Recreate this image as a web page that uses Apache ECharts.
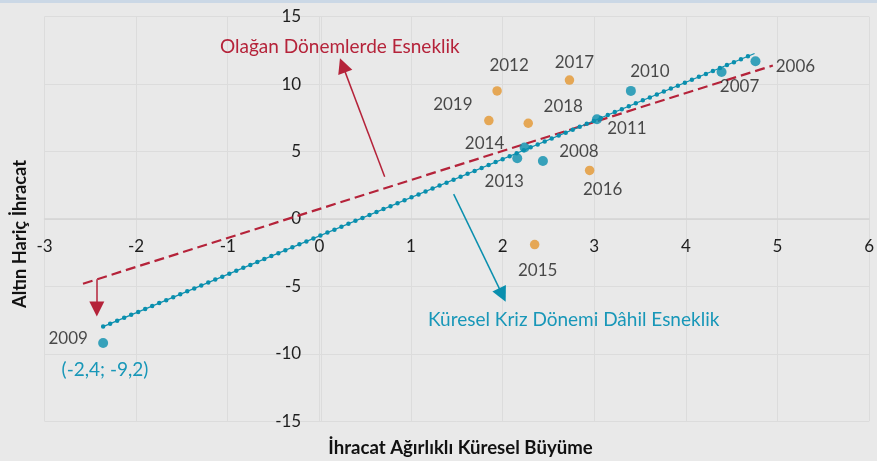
<!DOCTYPE html>
<html>
<head>
<meta charset="utf-8">
<script src="https://cdn.jsdelivr.net/npm/echarts@6/dist/echarts.min.js"></script>
<style>
html,body{margin:0;padding:0;background:#e9e9e9;}
#c{width:877px;height:461px;}
</style>
</head>
<body>
<div id="c"></div>
<script>
// ---- data ----
const blueYears = ['2006','2007','2008','2009','2010','2011','2013','2014'];
const blueX = [4.76, 4.39, 2.44, -2.36, 3.40, 3.03, 2.16, 2.24];
const blueY = [11.7, 10.9, 4.3, -9.2, 9.5, 7.4, 4.5, 5.3];
const orangeYears = ['2012','2015','2016','2017','2018','2019'];
const orangeX = [1.94, 2.35, 2.95, 2.73, 2.28, 1.85];
const orangeY = [9.5, -1.9, 3.6, 10.3, 7.1, 7.3];
// trend lines (end points)
const normalTrendX = [-2.58, 4.95];
const normalTrendY = [-4.8, 11.38];
const crisisTrendX = [-2.36, 4.75];
const crisisTrendY = [-7.98, 12.27];
// axis ticks
const xTicks = [-3,-2,-1,0,1,2,3,4,5,6];
const yTicks = [-15,-10,-5,0,5,10,15];
const xTitle = 'İhracat Ağırlıklı Küresel Büyüme';
const yTitle = 'Altın Hariç İhracat';
const noteNormal = 'Olağan Dönemlerde Esneklik';
const noteCrisis = 'Küresel Kriz Dönemi Dâhil Esneklik';
const note2009 = '(-2,4; -9,2)';
// arrows in data coordinates [from, to]
const arrowNormal = [[0.713, 3.13], [0.254, 11.39]];
const arrowCrisis = [[1.466, 1.85], [1.998, -5.63]];
const arrow2009 = [[-2.429, -4.47], [-2.429, -6.68]];

// ---- layout / styles ----
const W = 877, H = 461;
const G = {left:44.5, right:2.5, top:16.7, bottom:39.7};
const gw = W - G.left - G.right, gh = H - G.top - G.bottom;
const xMin = xTicks[0], xMax = xTicks[xTicks.length-1];
const yMin = yTicks[0], yMax = yTicks[yTicks.length-1];
// move axes so they cross at the origin (through the scale)
const yAxisOffset = -((0 - xMin) / (xMax - xMin)) * gw;
const xAxisOffset = -((0 - yMin) / (yMax - yMin)) * gh;

const labelOffset = {
  '2006':[40,5], '2007':[18,15], '2008':[36,-9], '2009':[-35,-5],
  '2010':[19,-19], '2011':[30,9], '2013':[-13,23], '2014':[-40,-4],
  '2012':[12,-25], '2015':[3,26], '2016':[13,19], '2017':[5,-18],
  '2018':[35,-17], '2019':[-36,-16]
};
const FONT = 'Lato';
const RED = '#b5233a';
const TEAL = '#0a8fae';
const TEAL_TXT = '#1897b8';
const ORANGE = '#e4962f';
const TXT = '#1e1e1e';

function pts(xs, ys, names){
  return xs.map((x,i)=>({
    value:[x, ys[i]], name:names[i],
    label:{show:true, position:'inside', offset:labelOffset[names[i]], formatter:names[i]}
  }));
}
const labelStyle = {color:TXT, fontFamily:FONT, fontSize:17};

const chart = echarts.init(document.getElementById('c'), null, {renderer:'canvas'});
const option = {
  backgroundColor:'#e9e9e9',
  animation:false,
  grid:{left:G.left, right:G.right, top:G.top, bottom:G.bottom, containLabel:false},
  xAxis:{
    type:'value', min:xMin, max:xMax, interval:1, position:'bottom', offset:xAxisOffset,
    axisLine:{show:true, onZero:false, lineStyle:{color:'#d4d4d4', width:1.5}},
    axisTick:{show:false},
    axisLabel:{color:TXT, fontFamily:FONT, fontSize:17, margin:19, showMaxLabel:true, showMinLabel:true},
    splitLine:{show:true, lineStyle:{color:'#dcdcdc', width:1}}
  },
  yAxis:{
    type:'value', min:yMin, max:yMax, interval:5, position:'left', offset:yAxisOffset,
    axisLine:{show:true, onZero:false, lineStyle:{color:'#dcdcdc', width:1}},
    axisTick:{show:false},
    axisLabel:{color:TXT, fontFamily:FONT, fontSize:17, margin:20},
    splitLine:{show:true, lineStyle:{color:'#dcdcdc', width:1}}
  },
  graphic:[
    {type:'rect', left:0, top:0, z:100, shape:{width:W, height:3}, style:{fill:'#cbd8e6'}, silent:true},
    {type:'text', z:100, x:460.5, y:448, style:{text:xTitle, font:'bold 18.6px Lato', fill:'#111', align:'center', verticalAlign:'middle'}},
    {type:'text', z:100, x:20, y:234, rotation:Math.PI/2, style:{text:yTitle, font:'bold 18.3px Lato', fill:'#111', align:'center', verticalAlign:'middle'}},
    {type:'text', z:100, x:220, y:46.7, style:{text:noteNormal, font:'19px Lato', fill:RED, align:'left', verticalAlign:'middle'}},
    {type:'text', z:100, x:428, y:320, style:{text:noteCrisis, font:'19px Lato', fill:TEAL_TXT, align:'left', verticalAlign:'middle'}},
    {type:'text', z:100, x:105, y:370, style:{text:note2009, font:'19px Lato', fill:TEAL_TXT, align:'center', verticalAlign:'middle'}}
  ],
  series:[
    {type:'line', data:normalTrendX.map((x,i)=>[x, normalTrendY[i]]), showSymbol:false, silent:true,
     lineStyle:{color:RED, width:2.2, type:[10,5]}, z:2},
    {type:'line', data:crisisTrendX.map((x,i)=>[x, crisisTrendY[i]]), showSymbol:false, silent:true,
     lineStyle:{color:TEAL, width:1.2, type:'solid'}, z:2},
    {type:'line', data:crisisTrendX.map((x,i)=>[x, crisisTrendY[i]]), showSymbol:false, silent:true,
     lineStyle:{color:TEAL, width:4.5, type:[0,7.6], cap:'round'}, z:2},
    {type:'scatter', data:pts(blueX, blueY, blueYears), symbolSize:10, itemStyle:{color:TEAL}, label:labelStyle, z:4},
    {type:'scatter', data:pts(orangeX, orangeY, orangeYears), symbolSize:9.5, itemStyle:{color:ORANGE}, label:labelStyle, z:4},
    {type:'scatter', data:[], silent:true, z:3,
     markLine:{silent:true, symbol:['none','triangle'], symbolSize:15, label:{show:false}, animation:false,
       data:[
         [{coord:arrowNormal[0], lineStyle:{color:RED, width:1.5, type:'solid'}, itemStyle:{color:RED}}, {coord:arrowNormal[1], itemStyle:{color:RED}}],
         [{coord:arrowCrisis[0], lineStyle:{color:TEAL, width:1.5, type:'solid'}, itemStyle:{color:TEAL}}, {coord:arrowCrisis[1], itemStyle:{color:TEAL}}],
         [{coord:arrow2009[0], lineStyle:{color:RED, width:1.5, type:'solid'}, itemStyle:{color:RED}}, {coord:arrow2009[1], itemStyle:{color:RED}}]
       ]}}
  ]
};
chart.setOption(option);
</script>
</body>
</html>
